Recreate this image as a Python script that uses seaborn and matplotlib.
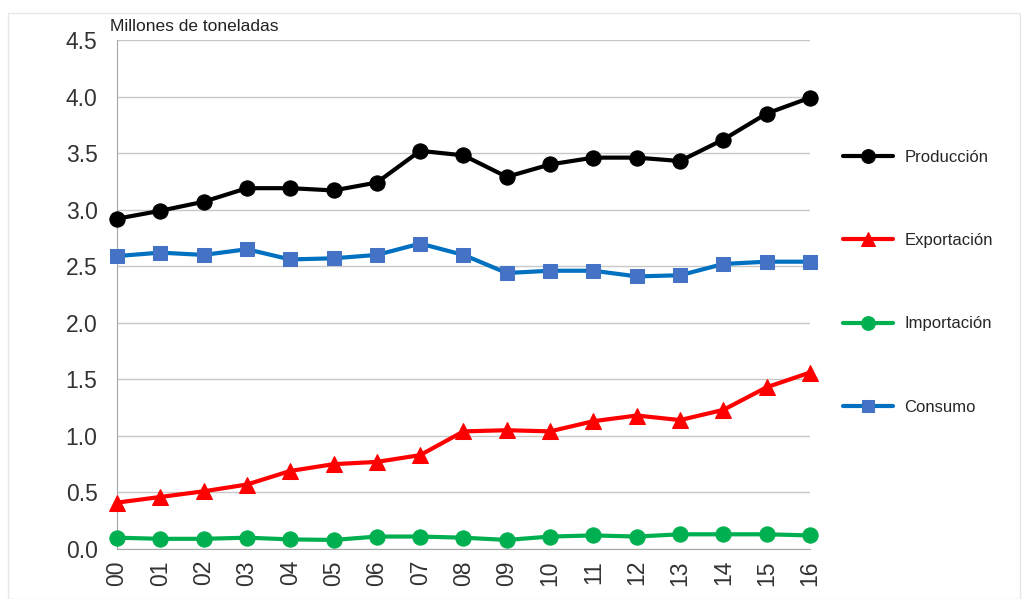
import pandas as pd
import matplotlib.pyplot as plt
import seaborn as sns
from matplotlib.patches import Rectangle

# años (etiquetas del eje x)
anios = ["00", "01", "02", "03", "04", "05", "06", "07", "08",
         "09", "10", "11", "12", "13", "14", "15", "16"]

produccion = [2.92, 2.99, 3.07, 3.19, 3.19, 3.17, 3.24, 3.52, 3.48,
              3.29, 3.40, 3.46, 3.46, 3.43, 3.62, 3.85, 3.99]
exportacion = [0.41, 0.46, 0.51, 0.57, 0.69, 0.75, 0.77, 0.83, 1.04,
               1.05, 1.04, 1.13, 1.18, 1.14, 1.23, 1.43, 1.56]
importacion = [0.10, 0.09, 0.09, 0.10, 0.085, 0.08, 0.11, 0.11, 0.10,
               0.08, 0.11, 0.12, 0.11, 0.13, 0.13, 0.13, 0.12]
consumo = [2.59, 2.62, 2.60, 2.65, 2.56, 2.57, 2.60, 2.70, 2.60,
           2.44, 2.46, 2.46, 2.41, 2.42, 2.52, 2.54, 2.54]

df = pd.DataFrame({
    'x': range(len(anios)),
    'Producción': produccion,
    'Exportación': exportacion,
    'Importación': importacion,
    'Consumo': consumo,
})

sns.set_style("white")
plt.rcParams['font.family'] = ['Liberation Sans', 'DejaVu Sans']

fig = plt.figure(figsize=(10.29, 5.99), dpi=100)
ax = fig.add_axes([117 / 1029, 1 - 549 / 599, (810 - 117) / 1029, (549 - 40) / 599])

# marco exterior claro
fig.patches.append(Rectangle((8 / 1029, 0.0), 1012 / 1029, 1 - 13 / 599,
                             transform=fig.transFigure, fill=False,
                             edgecolor='#e6e6e6', linewidth=1.0))

series = [
    ('Producción', 'black', 'black', 'o', 11),
    ('Exportación', '#ff0000', '#ff0000', '^', 11),
    ('Importación', '#00b050', '#00b050', 'o', 11),
    ('Consumo', '#0070c0', '#4472c4', 's', 10),
]
for nombre, col, mcol, mk, ms in series:
    sns.lineplot(data=df, x='x', y=nombre, ax=ax, color=col, linewidth=3,
                 marker=mk, markersize=ms, markerfacecolor=mcol,
                 markeredgecolor=mcol, label=nombre, zorder=3, clip_on=False)

ax.set_xlim(0, 16)
ax.set_ylim(0, 4.5)
ax.set_xticks(range(len(anios)))
ax.set_xticklabels(anios, rotation=90)
ax.set_yticks([0.0, 0.5, 1.0, 1.5, 2.0, 2.5, 3.0, 3.5, 4.0, 4.5])
ax.set_yticklabels(['0.0', '0.5', '1.0', '1.5', '2.0', '2.5', '3.0', '3.5', '4.0', '4.5'])
ax.tick_params(axis='both', labelsize=16.5, colors='#333333')
ax.tick_params(axis='x', length=5, width=1, color='#a6a6a6', pad=3)
ax.tick_params(axis='y', length=4, width=1, color='#bfbfbf', pad=10)
ax.set_xlabel('')
ax.set_ylabel('')
ax.yaxis.grid(True, color='#c8c8c8', linewidth=1)
ax.xaxis.grid(False)
ax.set_axisbelow(True)
for s in ['top', 'right']:
    ax.spines[s].set_visible(False)
ax.spines['left'].set_color('#a6a6a6')
ax.spines['bottom'].set_color('#a6a6a6')

ax.text(-0.01, 1.012, 'Millones de toneladas', transform=ax.transAxes,
        fontsize=12.5, color='#222222', ha='left', va='bottom')

ax.get_legend().remove()
handles, labels = ax.get_legend_handles_labels()
fig.legend(handles, labels, loc='upper left', bbox_to_anchor=(0.819, 0.750),
           frameon=False, fontsize=12, handlelength=3, handletextpad=0.7,
           labelspacing=4.1, borderpad=0, borderaxespad=0, markerscale=0.9)

fig.savefig('out.png', dpi=100)
